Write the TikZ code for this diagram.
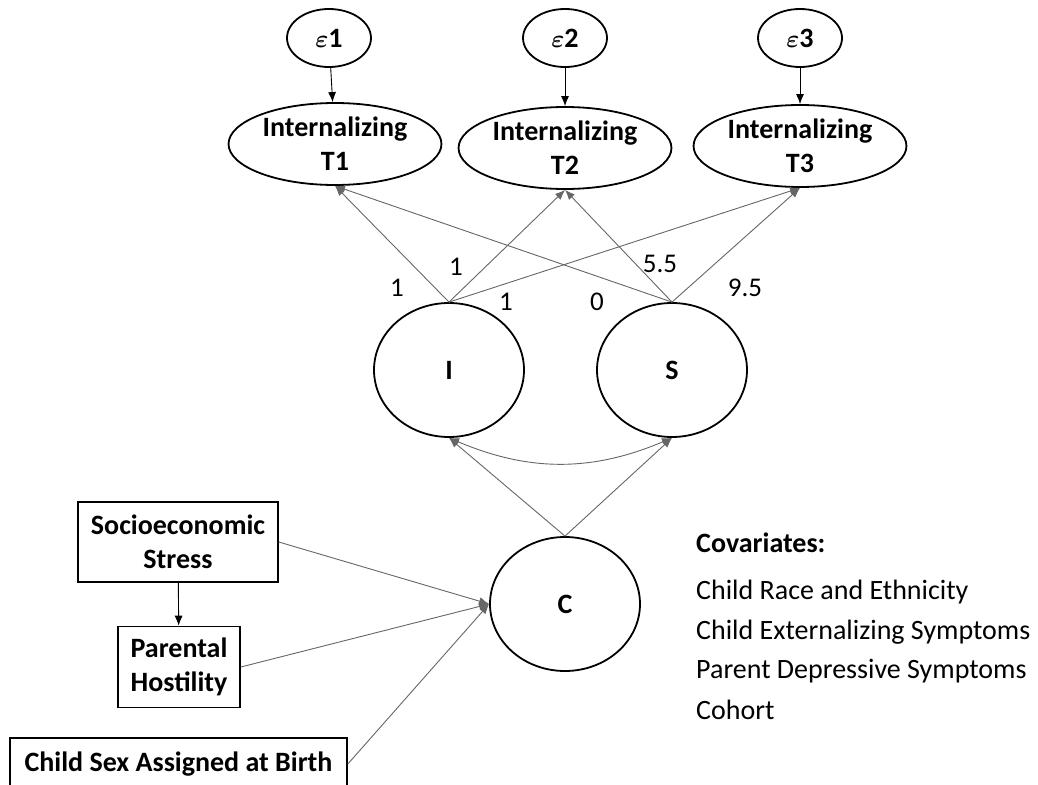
\documentclass[tikz,border=0pt]{standalone}
\usepackage{amsmath}
\usepackage{fontspec}
\setmainfont{Carlito}
\usetikzlibrary{shapes.geometric,arrows.meta}
\tikzset{
  errnode/.style={draw,line width=1.8pt,ellipse,inner sep=0pt,minimum width=84pt,minimum height=58pt,font=\fontsize{28}{32}\selectfont},
  obsnode/.style={draw,line width=1.8pt,ellipse,inner xsep=3pt,inner ysep=-4pt,minimum width=200pt,minimum height=82pt,align=center,font=\fontsize{28}{34}\selectfont\bfseries},
  latnode/.style={draw,line width=1.8pt,ellipse,inner sep=0pt,minimum width=150pt,minimum height=134pt,font=\fontsize{28}{34}\selectfont\bfseries},
  boxnode/.style={draw,line width=1.6pt,rectangle,inner sep=0pt,align=center,font=\fontsize{28}{34}\selectfont\bfseries},
  tip/.style={-{Latex[length=10pt,width=8pt]}},
  lnk/.style={draw=black!60,line width=0.9pt,tip},
  blk/.style={draw=black,line width=0.9pt,tip},
  dbl/.style={draw=black!60,line width=0.9pt,{Latex[length=10pt,width=8pt]}-{Latex[length=10pt,width=8pt]}},
  numlab/.style={inner sep=0pt,font=\fontsize{27}{32}\selectfont},
  covlab/.style={inner sep=0pt,anchor=west,font=\fontsize{28}{32}\selectfont}
}
\begin{document}
\begin{tikzpicture}[x=1pt,y=-1pt]
\useasboundingbox (0,0) rectangle (1038,784);
% residual terms
\node[errnode] (e1) at (329,38) {$\boldsymbol{\varepsilon}\mathbf{1}$};
\node[errnode] (e2) at (565,38) {$\boldsymbol{\varepsilon}\mathbf{2}$};
\node[errnode] (e3) at (800,38) {$\boldsymbol{\varepsilon}\mathbf{3}$};
% indicators
\node[obsnode] (T1) at (335,144) {Internalizing\\T1};
\node[obsnode] (T2) at (565,148) {Internalizing\\T2};
\node[obsnode] (T3) at (800,146) {Internalizing\\T3};
% latent factors
\node[latnode] (I) at (449,370) {I};
\node[latnode] (S) at (672,370) {S};
\node[latnode] (C) at (565,604) {C};
% predictors
\node[boxnode,minimum width=200pt,minimum height=80pt] (SES) at (178,542) {Socioeconomic\\Stress};
\node[boxnode,minimum width=122pt,minimum height=81pt] (PH) at (179,667) {Parental\\Hostility};
\node[boxnode,minimum width=337pt,minimum height=52pt] (CS) at (178.5,764) {Child Sex Assigned at Birth};
% covariates
\node[covlab,font=\fontsize{28}{32}\selectfont\bfseries] (cv0) at (696,543) {Covariates:};
\node[covlab] (cv1) at (696,592) {Child Race and Ethnicity};
\node[covlab] (cv2) at (696,632) {Child Externalizing Symptoms};
\node[covlab] (cv3) at (696,671) {Parent Depressive Symptoms};
\node[covlab] (cv4) at (696,710) {Cohort};
% residual arrows
\draw[blk] (e1) -- (T1);
\draw[blk] (e2) -- (T2);
\draw[blk] (e3) -- (T3);
% loadings
\draw[lnk] (I.north) -- (T1.south);
\draw[lnk] (I.north) -- (T2.south);
\draw[lnk] (I.north) -- (T3.south);
\draw[lnk] (S.north) -- (T1.south);
\draw[lnk] (S.north) -- (T2.south);
\draw[lnk] (S.north) -- (T3.south);
\node[numlab] (l1) at (397,288) {1};
\node[numlab] (l2) at (456,267) {1};
\node[numlab] (l3) at (506,302) {1};
\node[numlab] (l4) at (597,302) {0};
\node[numlab] (l5) at (660,264) {5.5};
\node[numlab] (l6) at (745,288) {9.5};
% covariance between I and S
\draw[dbl] (I.south) to[bend right=23] (S.south);
% C to growth factors
\draw[lnk] (C.north) -- (I.south);
\draw[lnk] (C.north) -- (S.south);
% predictors to C
\draw[blk] (SES) -- (PH);
\draw[lnk] (SES.east) -- (C.west);
\draw[lnk] (PH.east) -- (C.west);
\draw[lnk] (CS.east) -- (C.west);
\end{tikzpicture}
\end{document}
